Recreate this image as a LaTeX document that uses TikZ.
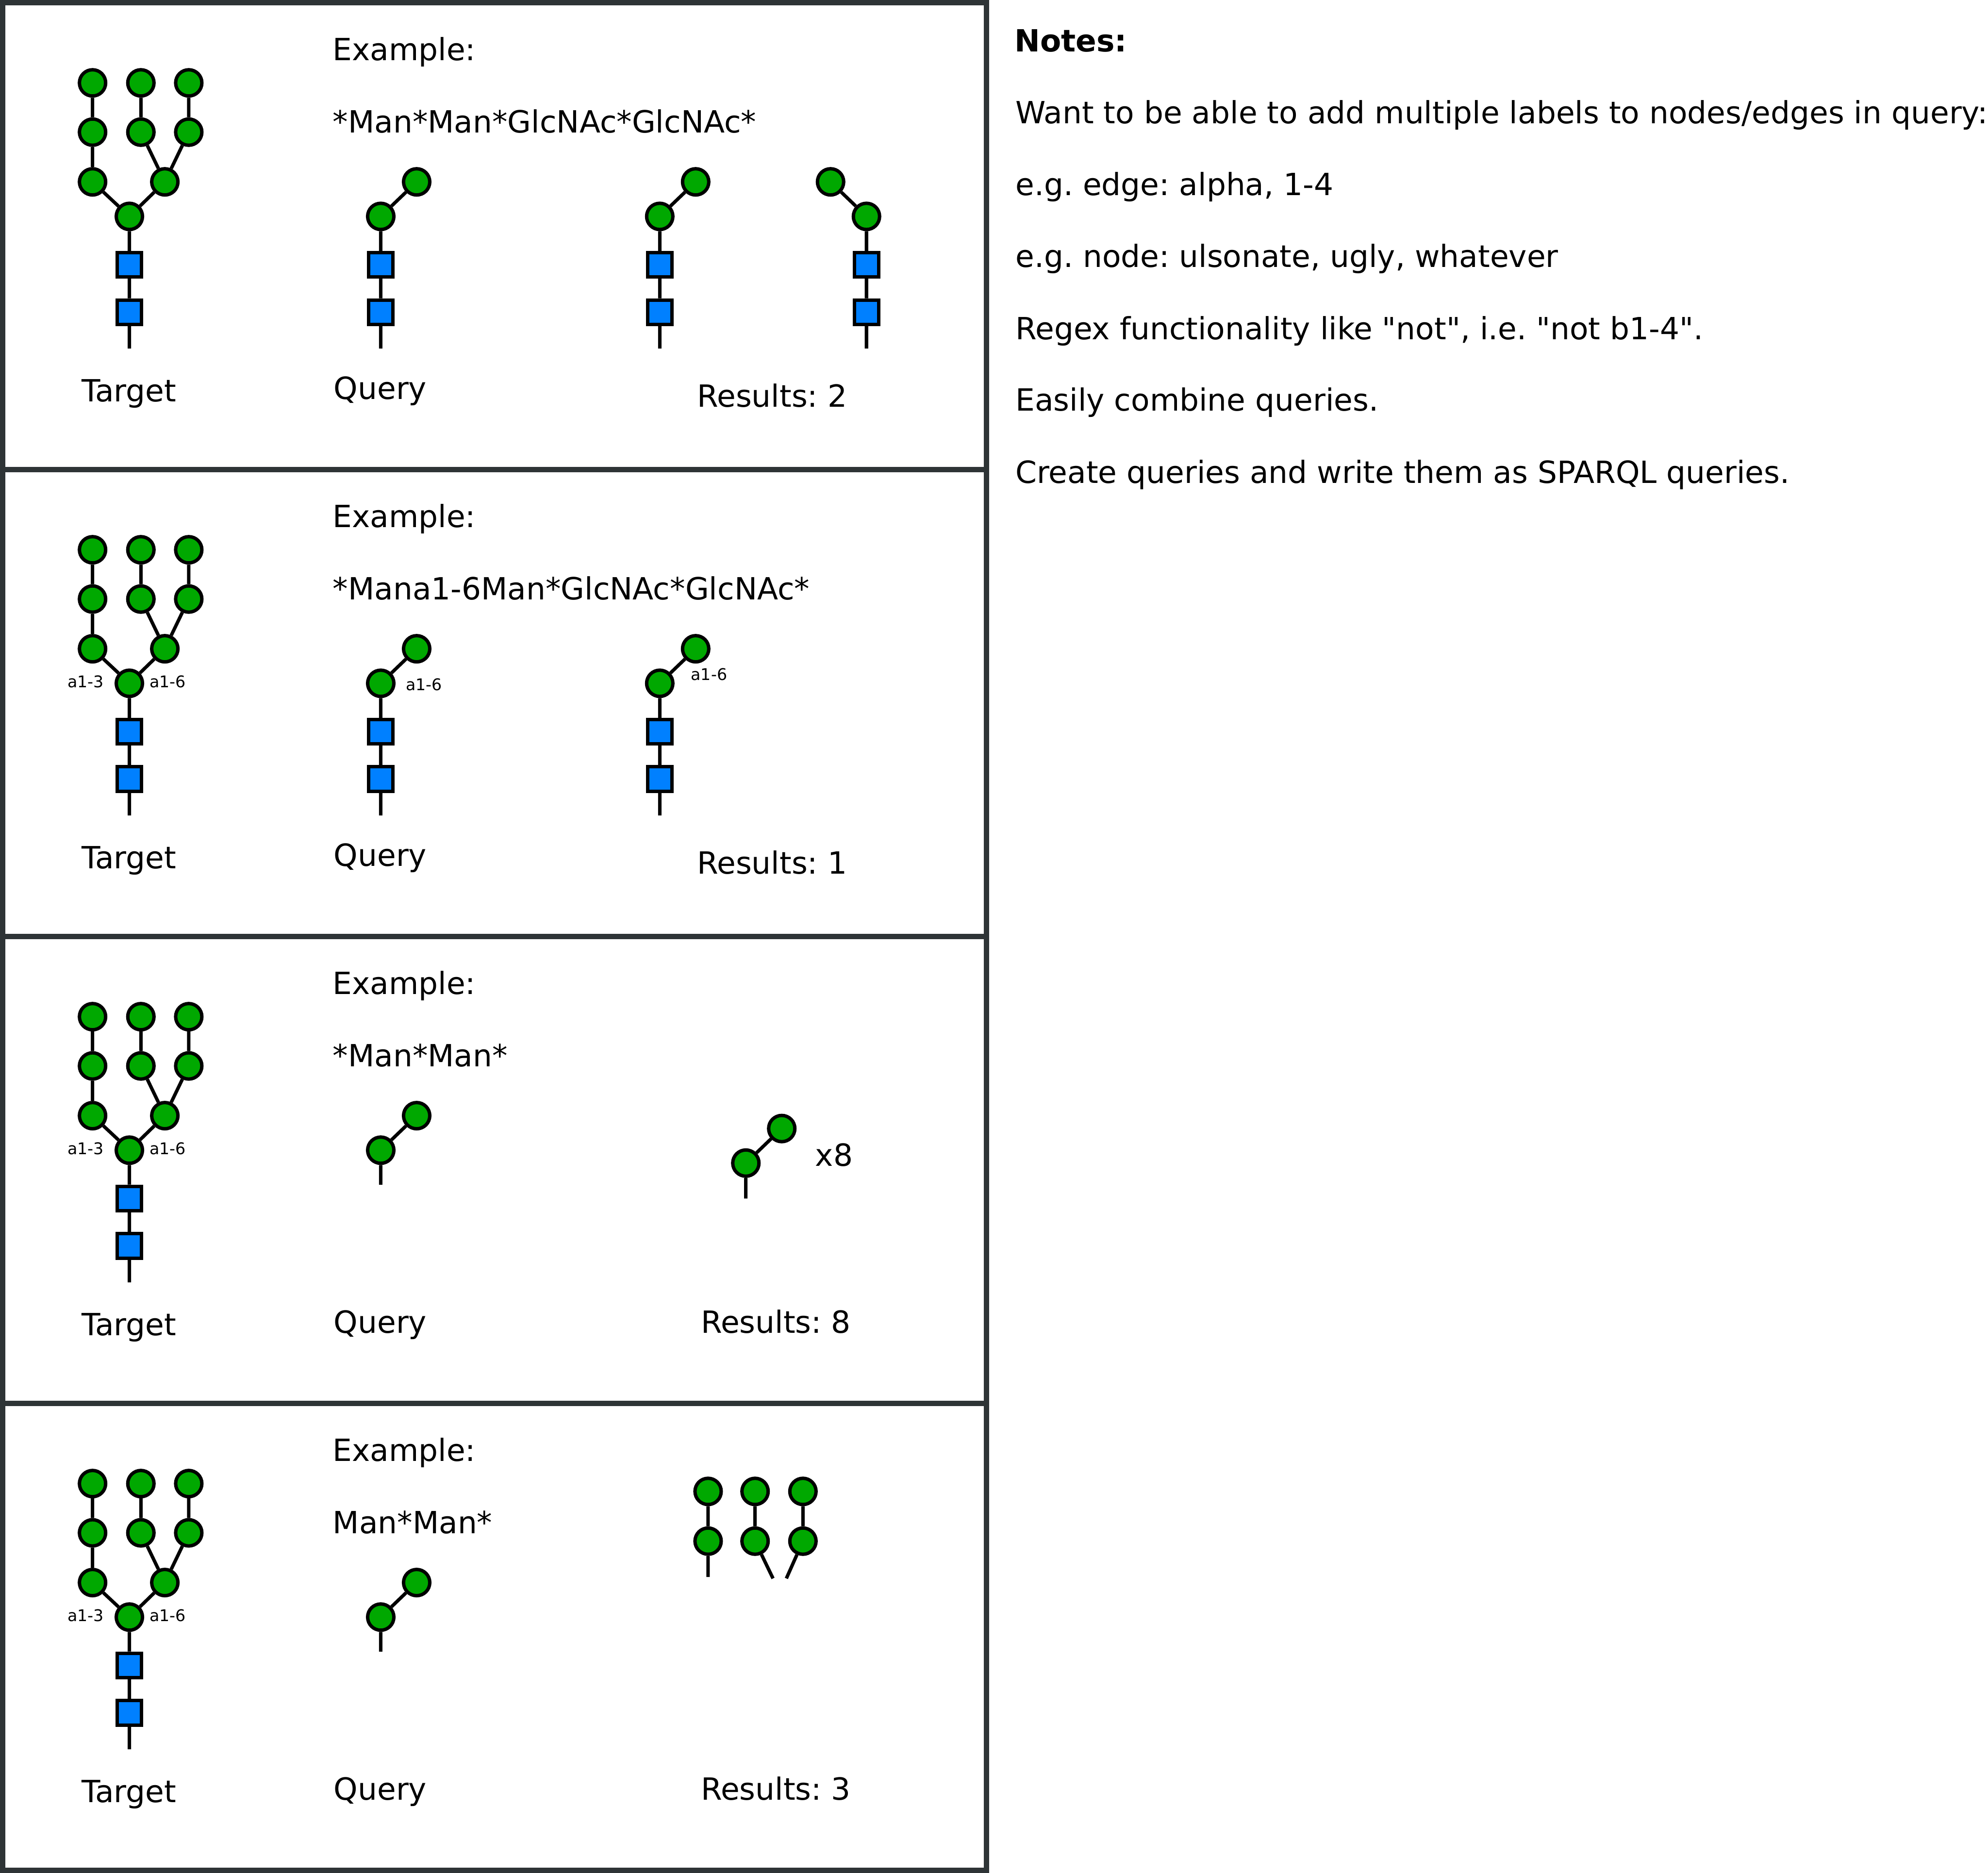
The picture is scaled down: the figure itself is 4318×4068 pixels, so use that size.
\documentclass[tikz,border=0pt]{standalone}
\usepackage{fontspec}
\setmainfont{DejaVu Sans}[Ligatures=TeXOff]
\frenchspacing
\definecolor{mangreen}{RGB}{0,168,0}
\definecolor{glcblue}{RGB}{0,128,255}
\definecolor{framegray}{RGB}{46,52,54}
\newcommand\mainsz{\fontsize{16.6}{20}\selectfont}
\newcommand\labsz{\fontsize{8.75}{10}\selectfont}
\tikzset{
  man/.style={circle, draw=black, fill=mangreen, line width=1.85pt, minimum size=14.25pt, inner sep=0pt},
  glc/.style={rectangle, draw=black, fill=glcblue, line width=1.85pt, minimum size=13.25pt, inner sep=0pt},
  bond/.style={line width=1.85pt, black},
  txt/.style={font=\mainsz, inner sep=0pt},
  linklbl/.style={font=\labsz, inner sep=0pt},
  frame/.style={draw=framegray, line width=2.9pt}
}
% target glycan, #1 = name prefix
\newcommand\GTarget[1]{%
  \node[man] (#1a1) at (201,180) {};
  \node[man] (#1a2) at (201,287) {};
  \node[man] (#1a3) at (201,395) {};
  \node[man] (#1b1) at (306,180) {};
  \node[man] (#1b2) at (306,287) {};
  \node[man] (#1c1) at (410,180) {};
  \node[man] (#1c2) at (410,287) {};
  \node[man] (#1r) at (358,395) {};
  \node[man] (#1core) at (281,470) {};
  \node[glc] (#1g1) at (281,575) {};
  \node[glc] (#1g2) at (281,678) {};
  \coordinate (#1end) at (281,757);
  \draw[bond] (#1a1)--(#1a2) (#1a2)--(#1a3) (#1a3)--(#1core)
              (#1b1)--(#1b2) (#1b2)--(#1r) (#1c1)--(#1c2) (#1c2)--(#1r)
              (#1r)--(#1core) (#1core)--(#1g1) (#1g1)--(#1g2) (#1g2)--(#1end);
  \node[txt, anchor=base] (#1tlab) at (280,872) {Target};
}
% chain: lower man at (#2,470), upper man at (#3,395), two GlcNAc below
\newcommand\GChain[3]{%
  \node[man] (#1m1) at (#2,470) {};
  \node[man] (#1m2) at (#3,395) {};
  \node[glc] (#1g1) at (#2,575) {};
  \node[glc] (#1g2) at (#2,678) {};
  \coordinate (#1end) at (#2,757);
  \draw[bond] (#1m2)--(#1m1) (#1m1)--(#1g1) (#1g1)--(#1g2) (#1g2)--(#1end);
}
\begin{document}
\begin{tikzpicture}[x=0.25pt,y=-0.25pt]
\useasboundingbox (0,0) rectangle (4318,4068);
\fill[white] (0,0) rectangle (4318,4068);

% frames
\draw[frame] (5.5,5.5) rectangle (2143,4062);
\draw[frame] (5.5,1019.6) -- (2143,1019.6);
\draw[frame] (5.5,2033.75) -- (2143,2033.75);
\draw[frame] (5.5,3047.9) -- (2143,3047.9);

% ---------- panel 1 ----------
\begin{scope}
  \GTarget{pa}
  \node[txt, anchor=base west] (paex) at (722,131) {Example:};
  \node[txt, anchor=base west] (paq) at (722,288) {*Man*Man*GlcNAc*GlcNAc*};
  \GChain{paq}{827}{905}
  \node[txt, anchor=base] (paqlab) at (826,867) {Query};
  \GChain{par}{1433}{1511}
  \GChain{pas}{1882}{1804}
  \node[txt, anchor=base] (parlab) at (1677,884) {Results: 2};
\end{scope}

% ---------- panel 2 ----------
\begin{scope}[shift={(0,1014.1)}]
  \GTarget{pb}
  \node[linklbl] (pbl13) at (186,466) {a1-3};
  \node[linklbl] (pbl16) at (364,466) {a1-6};
  \node[txt, anchor=base west] (pbex) at (722,131) {Example:};
  \node[txt, anchor=base west] (pbq) at (722,288) {*Mana1-6Man*GlcNAc*GlcNAc*};
  \GChain{pbq}{827}{905}
  \node[linklbl] (pbql) at (921,473) {a1-6};
  \node[txt, anchor=base] (pbqlab) at (826,867) {Query};
  \GChain{pbr}{1433}{1511}
  \node[linklbl] (pbrl) at (1540,451) {a1-6};
  \node[txt, anchor=base] (pbrlab) at (1677,884) {Results: 1};
\end{scope}

% ---------- panel 3 ----------
\begin{scope}[shift={(0,2028.2)}]
  \GTarget{pc}
  \node[linklbl] (pcl13) at (186,466) {a1-3};
  \node[linklbl] (pcl16) at (364,466) {a1-6};
  \node[txt, anchor=base west] (pcex) at (722,131) {Example:};
  \node[txt, anchor=base west] (pcq) at (722,288) {*Man*Man*};
  \node[man] (pcqm1) at (827,470) {};
  \node[man] (pcqm2) at (905,395) {};
  \coordinate (pcqend) at (827,545);
  \draw[bond] (pcqm2)--(pcqm1) (pcqm1)--(pcqend);
  \node[txt, anchor=base] (pcqlab) at (826,867) {Query};
  \node[man] (pcrm1) at (1620,498) {};
  \node[man] (pcrm2) at (1698,423) {};
  \coordinate (pcrend) at (1620,575);
  \draw[bond] (pcrm2)--(pcrm1) (pcrm1)--(pcrend);
  \node[txt, anchor=base west] (pcx8) at (1770,505) {x8};
  \node[txt, anchor=base] (pcrlab) at (1685,867) {Results: 8};
\end{scope}

% ---------- panel 4 ----------
\begin{scope}[shift={(0,3042.3)}]
  \GTarget{pd}
  \node[linklbl] (pdl13) at (186,466) {a1-3};
  \node[linklbl] (pdl16) at (364,466) {a1-6};
  \node[txt, anchor=base west] (pdex) at (722,131) {Example:};
  \node[txt, anchor=base west] (pdq) at (722,288) {Man*Man*};
  \node[man] (pdqm1) at (827,470) {};
  \node[man] (pdqm2) at (905,395) {};
  \coordinate (pdqend) at (827,545);
  \draw[bond] (pdqm2)--(pdqm1) (pdqm1)--(pdqend);
  \node[txt, anchor=base] (pdqlab) at (826,867) {Query};
  \node[man] (pda1) at (1538,197) {};
  \node[man] (pda2) at (1538,305) {};
  \coordinate (pdae) at (1538,383);
  \node[man] (pdb1) at (1640,197) {};
  \node[man] (pdb2) at (1640,305) {};
  \coordinate (pdbe) at (1679,386);
  \node[man] (pdc1) at (1744,197) {};
  \node[man] (pdc2) at (1744,305) {};
  \coordinate (pdce) at (1708,386);
  \draw[bond] (pda1)--(pda2) (pda2)--(pdae) (pdb1)--(pdb2) (pdb2)--(pdbe)
              (pdc1)--(pdc2) (pdc2)--(pdce);
  \node[txt, anchor=base] (pdrlab) at (1685,867) {Results: 3};
\end{scope}

% ---------- notes ----------
\node[txt, anchor=base west, font=\mainsz\bfseries] (notes) at (2203,112) {Notes:};
\node[txt, anchor=base west] (n1) at (2205,268) {Want to be able to add multiple labels to nodes/edges in query:};
\node[txt, anchor=base west] (n2) at (2205,424) {e.g. edge: alpha, 1-4};
\node[txt, anchor=base west] (n3) at (2205,580) {e.g. node: ulsonate, ugly, whatever};
\node[txt, anchor=base west] (n4) at (2205,737) {Regex functionality like "not", i.e. "not b1-4".};
\node[txt, anchor=base west] (n5) at (2205,892) {Easily combine queries.};
\node[txt, anchor=base west] (n6) at (2205,1049) {Create queries and write them as SPARQL queries.};
\end{tikzpicture}
\end{document}
